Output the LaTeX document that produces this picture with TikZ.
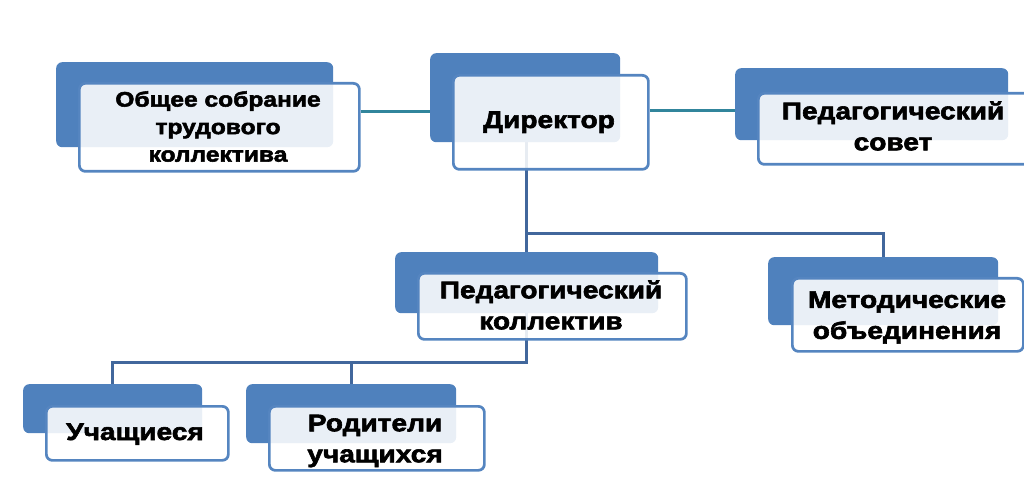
\documentclass[tikz,border=0pt]{standalone}
\usepackage{fontspec}
\setmainfont{Liberation Sans}
\newfontfamily\boxfont{Liberation Sans Bold}[FakeBold=2.5,FakeStretch=1.17]
\pgfdeclarelayer{bg}
\pgfsetlayers{bg,main}
\definecolor{backblue}{HTML}{4F81BD}
\definecolor{frontline}{HTML}{5585C0}
\definecolor{linkdark}{HTML}{41679C}
\definecolor{linkteal}{HTML}{31859C}
\tikzset{
  backbox/.style={draw=none, fill=backblue, rounded corners=6pt, anchor=north west, inner sep=0pt},
  frontbox/.style={draw=frontline, line width=2.7pt, fill=white, fill opacity=0.88, rounded corners=6pt, anchor=north west, inner sep=0pt},
  label/.style={font=\boxfont\fontsize{24}{31}\selectfont, align=center, inner sep=0pt, text=black},
  smalllabel/.style={font=\boxfont\fontsize{21}{27.5}\selectfont, align=center, inner sep=0pt, text=black},
  darklink/.style={draw=linkdark, line width=3pt},
  teallink/.style={draw=linkteal, line width=3pt},
}
\begin{document}
\begin{tikzpicture}[x=1pt,y=-1pt]
\useasboundingbox (0,0) rectangle (1024,502);
\clip (0,0) rectangle (1024,502);
% back boxes
\node[backbox, minimum width=277, minimum height=85] (gb) at (56,62) {};
\node[backbox, minimum width=190, minimum height=89] (db) at (430,53) {};
\node[backbox, minimum width=273, minimum height=72] (pb) at (735,68) {};
\node[backbox, minimum width=263, minimum height=61] (kb) at (395,252) {};
\node[backbox, minimum width=230, minimum height=68] (mb) at (768,257) {};
\node[backbox, minimum width=179, minimum height=49] (ub) at (23,384) {};
\node[backbox, minimum width=210, minimum height=59] (rb) at (246,384) {};
% front boxes
\node[frontbox, minimum width=280, minimum height=88] (gf) at (78,82) {};
\node[frontbox, minimum width=195, minimum height=94] (df) at (452,74) {};
\node[frontbox, minimum width=283, minimum height=71] (pf) at (757,92) {};
\node[frontbox, minimum width=268, minimum height=66] (kf) at (417,272) {};
\node[frontbox, minimum width=231, minimum height=73] (mf) at (791,277) {};
\node[frontbox, minimum width=182, minimum height=54] (uf) at (45,405) {};
\node[frontbox, minimum width=215, minimum height=64] (rf) at (268,405) {};
% texts
\node[smalllabel] (gt) at (218,126.5) {Общее собрание\\трудового\\коллектива};
\node[label, anchor=base] (dt) at (549,128) {Директор};
\node[label] (pt) at (893,126) {Педагогический\\совет};
\node[label] (kt) at (551,305) {Педагогический\\коллектив};
\node[label] (mt) at (907,317.5) {Методические\\объединения};
\node[label, anchor=base] (ut) at (135,440) {Учащиеся};
\node[label] (rt) at (375,441) {Родители\\учащихся};
% connectors
\coordinate (t1) at (0,112);
\coordinate (t2) at (0,111);
\coordinate (v1) at (526,0);
\coordinate (h1) at (0,234);
\coordinate (h2) at (0,362);
\begin{pgfonlayer}{bg}
\draw[teallink] (gf.east |- t1) -- (db.west |- t1);
\draw[teallink] (df.east |- t2) -- (pb.west |- t2);
\draw[darklink] (db.south -| v1) -- (kb.north -| v1);
\draw[darklink] (v1 |- h1) -| (mb.north);
\draw[darklink] (kb.south -| v1) -- (v1 |- h2) -| (ub.north);
\draw[darklink] (rb.north) -- (rb.north |- h2);
\end{pgfonlayer}
\end{tikzpicture}
\end{document}
